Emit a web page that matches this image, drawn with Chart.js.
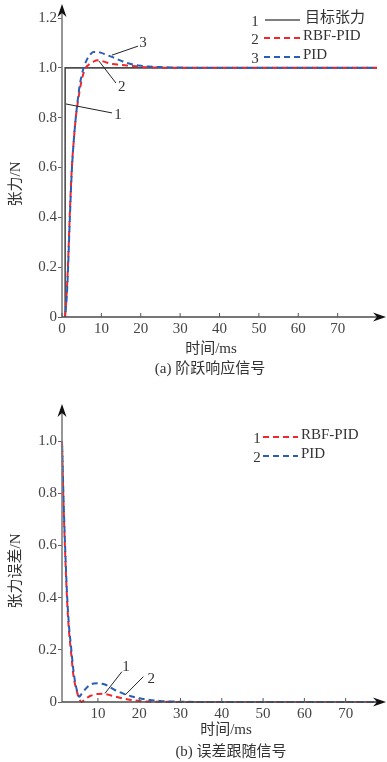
<!DOCTYPE html>
<html>
<head>
<meta charset="utf-8">
<script src="https://cdn.jsdelivr.net/npm/chart.js@4.4.0/dist/chart.umd.min.js"></script>
<style>
  html,body{margin:0;padding:0;background:#fff;}
  .wrap{position:absolute;left:0;width:387px;height:381px;}
  #wrapA{top:0;}
  #wrapB{top:381px;}
  canvas{display:block;}
</style>
</head>
<body>
<div class="wrap" id="wrapA"><canvas id="chartA" width="387" height="381"></canvas></div>
<div class="wrap" id="wrapB"><canvas id="chartB" width="387" height="381"></canvas></div>
<script>
// ---- (a) step response ----
const timeA   = [0.8, 1.2, 1.5, 2, 2.5, 3, 3.5, 4, 4.5, 5, 5.5, 6, 7, 8, 9, 10, 11, 12, 13, 14, 16, 18, 20, 22, 25, 30, 40, 50, 60, 70, 80];
const rbfA    = [0, 0.1, 0.2, 0.42, 0.6, 0.71, 0.8, 0.86, 0.91, 0.95, 0.98, 1.0, 1.015, 1.025, 1.03, 1.028, 1.023, 1.018, 1.015, 1.013, 1.01, 1.007, 1.004, 1.002, 1.001, 1.0, 1, 1, 1, 1, 1];
const pidA    = [0, 0.08, 0.18, 0.4, 0.59, 0.71, 0.8, 0.87, 0.93, 0.97, 1.0, 1.022, 1.05, 1.064, 1.064, 1.06, 1.054, 1.048, 1.042, 1.035, 1.022, 1.013, 1.008, 1.005, 1.003, 1.001, 1, 1, 1, 1, 1];
const timeTarget = [0.8, 0.8, 80];
const target     = [0, 1, 1];
const xTicksA = [0, 10, 20, 30, 40, 50, 60, 70];
const yTicksA = [0, 0.2, 0.4, 0.6, 0.8, 1.0, 1.2];

// ---- (b) tracking error ----
const timeB   = [1.3, 1.45, 1.6, 2.0, 2.5, 3.0, 3.5, 4.0, 4.5, 5.0, 5.5, 6.0, 7, 8, 9, 10, 11, 12, 13, 14, 16, 18, 20, 22, 25, 30, 40, 50, 60, 70, 78];
const rbfB    = [1.0, 0.9, 0.8, 0.6, 0.4, 0.27, 0.19, 0.11, 0.065, 0.035, 0.012, 0.0, 0.012, 0.022, 0.028, 0.031, 0.032, 0.03, 0.026, 0.022, 0.014, 0.008, 0.004, 0.002, 0.001, 0, 0, 0, 0, 0, 0];
const pidB    = [1.0, 0.92, 0.82, 0.62, 0.42, 0.29, 0.21, 0.13, 0.075, 0.04, 0.02, 0.03, 0.05, 0.065, 0.071, 0.072, 0.07, 0.065, 0.056, 0.047, 0.033, 0.022, 0.014, 0.009, 0.004, 0.001, 0, 0, 0, 0, 0];
const xTicksB = [10, 20, 30, 40, 50, 60, 70];
const yTicksB = [0, 0.2, 0.4, 0.6, 0.8, 1.0];

const RED = '#f2262b';
const BLUE = '#2a5db5';
const FONT = '15px "Liberation Serif", "Noto Sans CJK SC", serif';

function pts(xs, ys){ return xs.map((x, i) => ({ x: x, y: ys[i] })); }

function arrowHead(ctx, x, y, right){
  ctx.save();
  ctx.translate(x, y);
  if(right) ctx.rotate(Math.PI / 2);
  ctx.beginPath();
  ctx.moveTo(0, 0);
  ctx.lineTo(-4.5, 13);
  ctx.lineTo(0, 9);
  ctx.lineTo(4.5, 13);
  ctx.closePath();
  ctx.fill();
  ctx.restore();
}

function dashLine(ctx, x1, x2, y, color, dash){
  ctx.save();
  ctx.strokeStyle = color;
  ctx.lineWidth = dash ? 2 : 1.6;
  ctx.setLineDash(dash || []);
  ctx.beginPath(); ctx.moveTo(x1, y); ctx.lineTo(x2, y); ctx.stroke();
  ctx.restore();
}

// axes with arrows, inward x ticks, leader lines, legend and titles
function decor(o){
  return {
    id: 'decor',
    afterDraw(chart){
      const ctx = chart.ctx, xs = chart.scales.x, ys = chart.scales.y;
      const x0 = chart.chartArea.left, y0 = ys.getPixelForValue(0);
      ctx.save();
      ctx.lineWidth = 1.6;
      ctx.strokeStyle = '#7d7d7d';
      ctx.beginPath(); ctx.moveTo(x0, y0); ctx.lineTo(x0, o.yTip + 9); ctx.stroke();
      ctx.strokeStyle = '#4a4a4a';
      ctx.beginPath(); ctx.moveTo(x0, y0); ctx.lineTo(o.xTip - 9, y0); ctx.stroke();
      ctx.fillStyle = '#111';
      arrowHead(ctx, x0, o.yTip, false);
      arrowHead(ctx, o.xTip, y0, true);

      ctx.lineWidth = 1;
      ctx.strokeStyle = '#555';
      xs.ticks.forEach(t => {
        const px = xs.getPixelForValue(t.value);
        ctx.beginPath(); ctx.moveTo(px, y0); ctx.lineTo(px, y0 - 4); ctx.stroke();
      });

      // leader lines to the curves
      ctx.strokeStyle = '#222';
      ctx.lineWidth = 1;
      o.leaders.forEach(l => {
        ctx.beginPath();
        ctx.moveTo(xs.getPixelForValue(l[0]), ys.getPixelForValue(l[1]));
        ctx.lineTo(xs.getPixelForValue(l[2]), ys.getPixelForValue(l[3]));
        ctx.stroke();
      });
      ctx.font = FONT;
      ctx.fillStyle = '#333';
      ctx.textAlign = 'center';
      ctx.textBaseline = 'middle';
      o.marks.forEach(m => ctx.fillText(m[2], xs.getPixelForValue(m[0]), ys.getPixelForValue(m[1])));

      // legend
      o.legend.forEach(it => {
        ctx.fillStyle = '#333';
        ctx.textAlign = 'center';
        ctx.fillText(it.num, it.nx, it.y + 2);
        dashLine(ctx, it.x1, it.x2, it.y, it.color, it.dash);
        ctx.textAlign = 'left';
        ctx.fillText(it.text, it.tx, it.y - 2);
      });

      // axis titles + caption
      ctx.fillStyle = '#333';
      ctx.textAlign = 'center';
      ctx.fillText('时间/ms', o.xTitle[0], o.xTitle[1]);
      ctx.fillText(o.caption, o.capPos[0], o.capPos[1]);
      ctx.save();
      ctx.translate(o.yTitle[0], o.yTitle[1]);
      ctx.rotate(-Math.PI / 2);
      ctx.fillText(o.yText, 0, 0);
      ctx.restore();
      ctx.restore();
    }
  };
}

function lineSet(data, color, dash, offset){
  return {
    data: data, borderColor: color, borderWidth: 2, borderDash: dash, borderDashOffset: offset || 0,
    pointRadius: 0, cubicInterpolationMode: 'monotone', clip: false, fill: false
  };
}

function makeChart(id, cfg){
  const tickFont = { family: '"Liberation Serif", serif', size: 15 };
  return new Chart(document.getElementById(id), {
    type: 'line',
    data: { datasets: cfg.datasets },
    options: {
      responsive: false,
      animation: false,
      layout: { padding: { top: cfg.top, right: cfg.right, left: 0, bottom: 0 } },
      plugins: { legend: { display: false }, tooltip: { enabled: false } },
      scales: {
        x: {
          type: 'linear', min: cfg.xMin, max: cfg.xMax,
          afterBuildTicks: s => { s.ticks = cfg.xTicks.map(v => ({ value: v })); },
          afterFit: s => { s.height = cfg.xHeight; },
          grid: { display: false, drawTicks: false }, border: { display: false },
          ticks: { padding: 3, font: tickFont, color: '#444', maxRotation: 0, autoSkip: false,
                   callback: v => String(v) }
        },
        y: {
          min: 0, max: cfg.yMax,
          afterBuildTicks: s => { s.ticks = cfg.yTicks.map(v => ({ value: v })); },
          afterFit: s => { s.width = 62; },
          grid: { drawOnChartArea: false, drawTicks: true, tickLength: 4, color: '#666' },
          border: { display: false },
          ticks: { padding: 1, font: tickFont, color: '#444', autoSkip: false,
                   callback: v => (v === 0 ? '0' : v.toFixed(1)) }
        }
      }
    },
    plugins: [decor(cfg.decor)]
  });
}

makeChart('chartA', {
  top: 18, right: 10, xHeight: 64, xMin: 0, xMax: 80, yMax: 1.2,
  xTicks: xTicksA, yTicks: yTicksA,
  datasets: [
    lineSet(pts(timeA, pidA), BLUE, [6, 4], 5),
    lineSet(pts(timeA, rbfA), RED, [6, 4]),
    Object.assign(lineSet(pts(timeTarget, target), '#4d4d4d', []), { borderWidth: 1.6, cubicInterpolationMode: 'default', tension: 0 })
  ],
  decor: {
    yTip: 4, xTip: 386,
    leaders: [[1.0, 0.855, 12.7, 0.819], [9.4, 1.027, 13.7, 0.939], [12.7, 1.051, 19.3, 1.087]],
    marks: [[14.2, 0.81, '1'], [15.2, 0.923, '2'], [20.6, 1.10, '3']],
    legend: [
      { num: '1', nx: 255, x1: 265, x2: 300, y: 20, color: '#555', dash: null, text: '目标张力', tx: 305 },
      { num: '2', nx: 255, x1: 264, x2: 302, y: 38, color: RED, dash: [6, 4], text: 'RBF-PID', tx: 303 },
      { num: '3', nx: 255, x1: 264, x2: 302, y: 57, color: BLUE, dash: [6, 4], text: 'PID', tx: 303 }
    ],
    xTitle: [211, 349], caption: '(a) 阶跃响应信号', capPos: [210, 369],
    yTitle: [16, 184], yText: '张力/N'
  }
});

makeChart('chartB', {
  top: 60, right: 8.3, xHeight: 60, xMin: 1.3, xMax: 78, yMax: 1.0,
  xTicks: xTicksB, yTicks: yTicksB,
  datasets: [
    lineSet(pts(timeB, pidB), BLUE, [6, 4], 5),
    lineSet(pts(timeB, rbfB), RED, [6, 4])
  ],
  decor: {
    yTip: 23, xTip: 386,
    leaders: [[11.7, 0.033, 15.8, 0.116], [16.6, 0.027, 21.0, 0.097]],
    marks: [[16.8, 0.134, '1'], [22.9, 0.088, '2']],
    legend: [
      { num: '1', nx: 257, x1: 263, x2: 298, y: 56, color: RED, dash: [6, 4], text: 'RBF-PID', tx: 301 },
      { num: '2', nx: 257, x1: 263, x2: 298, y: 75, color: BLUE, dash: [6, 4], text: 'PID', tx: 301 }
    ],
    xTitle: [226, 349], caption: '(b) 误差跟随信号', capPos: [231, 371],
    yTitle: [16, 190], yText: '张力误差/N'
  }
});
</script>
</body>
</html>
